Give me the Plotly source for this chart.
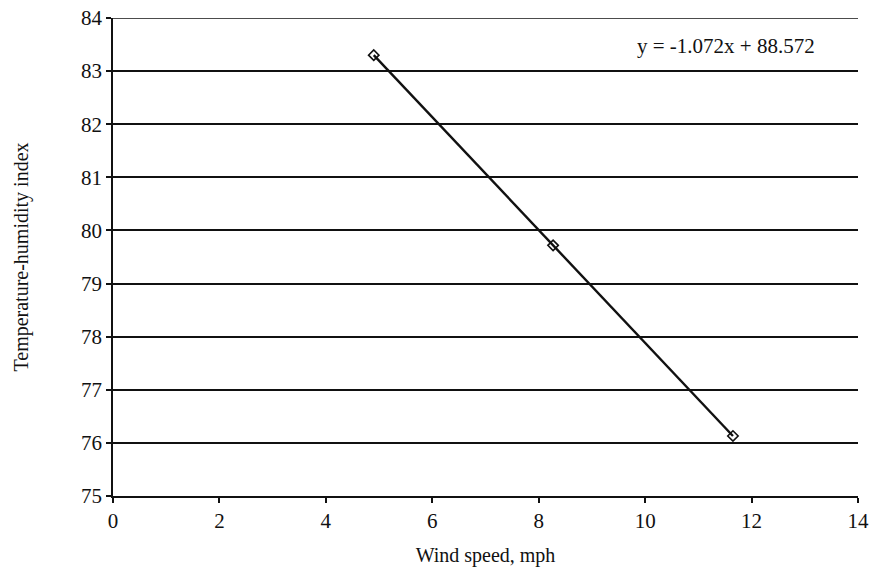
import plotly.graph_objects as go

wind_speed = [4.9, 8.27, 11.65]
thi = [83.3, 79.72, 76.13]
equation_text = "y = -1.072x + 88.572"
x_title = "Wind speed, mph"
y_title = "Temperature-humidity index"
x_range = [0, 14]
y_range = [75, 84]

fig = go.Figure()
fig.add_trace(go.Scatter(
    x=wind_speed, y=thi, mode="lines+markers",
    line=dict(color="#111111", width=2.4),
    marker=dict(symbol="diamond-open", size=8, color="#111111", line=dict(width=1.6, color="#111111")),
    showlegend=False,
))
fig.add_annotation(x=11.52, y=83.47, text=equation_text, showarrow=False,
                   font=dict(family="Liberation Serif", size=21, color="#111111"))
# top gridline (plotly drops the gridline at the range end)
fig.add_shape(type="line", xref="x domain", x0=0, x1=1, yref="y", y0=y_range[1], y1=y_range[1],
              line=dict(color="#111111", width=1.6), layer="below")

fig.update_layout(
    width=877, height=571,
    margin=dict(l=113, r=19, t=18, b=75, autoexpand=False),
    paper_bgcolor="white", plot_bgcolor="white",
    font=dict(family="Liberation Serif", size=21, color="#111111"),
)
fig.update_xaxes(
    range=x_range, dtick=2, showgrid=False, zeroline=False, automargin=False,
    showline=True, linecolor="#111111", linewidth=1.6,
    ticks="outside", ticklen=5, tickcolor="#111111", tickwidth=1.6,
    tickfont=dict(size=21),
    title=dict(text=x_title, font=dict(size=20), standoff=16),
)
fig.update_yaxes(
    range=y_range, dtick=1, showgrid=True, gridcolor="#111111", gridwidth=1.6,
    zeroline=False, automargin=False, showline=True, linecolor="#111111", linewidth=1.6,
    ticks="outside", ticklen=5, tickcolor="#111111", tickwidth=1.6,
    tickfont=dict(size=21),
    title=dict(text=y_title, font=dict(size=20), standoff=47),
)
fig.write_html("out.html", config={"displayModeBar": False},
               post_script="document.body.style.margin='0';document.body.style.overflow='hidden';")
